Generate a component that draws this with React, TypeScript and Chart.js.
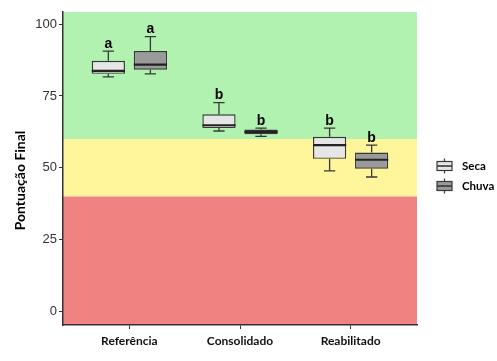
import React, { useEffect, useRef } from "react";
import { Chart, registerables } from "chart.js";

Chart.register(...registerables);

const categories = ["Referência", "Consolidado", "Reabilitado"];
const seriesNames = ["Seca", "Chuva"];

const secaMin = [81.6, 62.8, 48.9];
const secaQ1 = [82.7, 63.8, 53.1];
const secaMedian = [83.7, 64.8, 57.9];
const secaQ3 = [87.2, 68.6, 60.8];
const secaMax = [90.6, 72.7, 63.8];
const secaLetters = ["a", "b", "b"];

const chuvaMin = [82.7, 60.9, 46.8];
const chuvaQ1 = [84.1, 61.7, 49.7];
const chuvaMedian = [85.9, 62.5, 52.8];
const chuvaQ3 = [90.6, 63.3, 55.3];
const chuvaMax = [95.6, 63.8, 57.9];
const chuvaLetters = ["a", "b", "b"];

const yTicks = [0, 25, 50, 75, 100];
const bandGood = 60; // above: green
const bandMid = 40; // between: yellow; below: red

const COLORS = {
  green: "#b1f2b1",
  yellow: "#fff59b",
  red: "#f08282",
  seca: "#e6e6e6",
  chuva: "#9a9a9a",
  line: "#383838",
  axis: "#333333",
};

const stats = [
  { min: secaMin, q1: secaQ1, med: secaMedian, q3: secaQ3, max: secaMax, letters: secaLetters, fill: COLORS.seca },
  { min: chuvaMin, q1: chuvaQ1, med: chuvaMedian, q3: chuvaQ3, max: chuvaMax, letters: chuvaLetters, fill: COLORS.chuva },
];

const bandsPlugin = {
  id: "bands",
  beforeDraw(chart: any) {
    const { ctx, chartArea: a, scales } = chart;
    const y = scales.y;
    const y60 = y.getPixelForValue(bandGood);
    const y40 = y.getPixelForValue(bandMid);
    ctx.save();
    ctx.fillStyle = COLORS.green;
    ctx.fillRect(a.left, a.top, a.right - a.left, y60 - a.top);
    ctx.fillStyle = COLORS.yellow;
    ctx.fillRect(a.left, y60, a.right - a.left, y40 - y60);
    ctx.fillStyle = COLORS.red;
    ctx.fillRect(a.left, y40, a.right - a.left, a.bottom - y40);
    ctx.restore();
  },
};

const boxPlugin = {
  id: "boxextras",
  afterDatasetsDraw(chart: any) {
    const { ctx, scales } = chart;
    const y = scales.y;
    ctx.save();
    stats.forEach((s, di) => {
      const meta = chart.getDatasetMeta(di);
      meta.data.forEach((el: any, i: number) => {
        const cx = el.x;
        const w = el.width;
        const pMin = y.getPixelForValue(s.min[i]);
        const pQ1 = y.getPixelForValue(s.q1[i]);
        const pQ3 = y.getPixelForValue(s.q3[i]);
        const pMax = y.getPixelForValue(s.max[i]);
        const pMed = y.getPixelForValue(s.med[i]);
        ctx.strokeStyle = COLORS.line;
        ctx.lineWidth = 1.3;
        ctx.beginPath();
        ctx.moveTo(cx, pQ3);
        ctx.lineTo(cx, pMax);
        ctx.moveTo(cx, pQ1);
        ctx.lineTo(cx, pMin);
        const cw = w * 0.17;
        ctx.moveTo(cx - cw, pMax);
        ctx.lineTo(cx + cw, pMax);
        ctx.moveTo(cx - cw, pMin);
        ctx.lineTo(cx + cw, pMin);
        ctx.stroke();
        ctx.lineWidth = 2.2;
        ctx.strokeStyle = "#222222";
        ctx.beginPath();
        ctx.moveTo(cx - w / 2, pMed);
        ctx.lineTo(cx + w / 2, pMed);
        ctx.stroke();
        ctx.fillStyle = "#000000";
        ctx.font = "bold 14px 'Liberation Sans', Arial, sans-serif";
        ctx.textAlign = "center";
        ctx.textBaseline = "alphabetic";
        ctx.fillText(s.letters[i], cx, pMax - 3.5);
      });
    });
    ctx.restore();
  },
  afterDraw(chart: any) {
    const { ctx, chartArea: a } = chart;
    ctx.save();
    // y axis title
    ctx.translate(25, (a.top + a.bottom) / 2 + 12);
    ctx.rotate(-Math.PI / 2);
    ctx.fillStyle = "#000000";
    ctx.font = "bold 14px Lato, 'Open Sans', sans-serif";
    ctx.textAlign = "center";
    ctx.textBaseline = "alphabetic";
    ctx.fillText("Pontuação Final", 0, 0);
    ctx.restore();

    // legend
    ctx.save();
    const lx = a.right + 20;
    const gw = 15;
    const gh = 9;
    seriesNames.forEach((name, k) => {
      const cy = 166 + k * 20;
      ctx.strokeStyle = COLORS.line;
      ctx.lineWidth = 1.2;
      ctx.beginPath();
      ctx.moveTo(lx + gw / 2, cy - gh / 2 - 3);
      ctx.lineTo(lx + gw / 2, cy + gh / 2 + 3);
      ctx.stroke();
      ctx.fillStyle = stats[k].fill;
      ctx.fillRect(lx, cy - gh / 2, gw, gh);
      ctx.strokeRect(lx, cy - gh / 2, gw, gh);
      ctx.lineWidth = 1.6;
      ctx.beginPath();
      ctx.moveTo(lx, cy);
      ctx.lineTo(lx + gw, cy);
      ctx.stroke();
      ctx.fillStyle = "#000000";
      ctx.font = "bold 11.5px Lato, 'Open Sans', sans-serif";
      ctx.textAlign = "left";
      ctx.textBaseline = "middle";
      ctx.fillText(name, lx + gw + 10, cy);
    });
    ctx.restore();
  },
};

export default function App() {
  const ref = useRef<HTMLCanvasElement | null>(null);
  useEffect(() => {
    if (!ref.current) return;
    const chart = new Chart(ref.current, {
      type: "bar",
      data: {
        datasets: stats.map((s, di) => ({
          label: seriesNames[di],
          data: categories.map((_, i) => ({ x: i + 1, y: [s.q1[i], s.q3[i]] })),
          backgroundColor: s.fill,
          borderColor: COLORS.line,
          borderWidth: 1.4,
          borderSkipped: false,
          categoryPercentage: 0.76,
          barPercentage: 0.79,
        })),
      },
      options: {
        animation: false,
        responsive: true,
        maintainAspectRatio: false,
        layout: { padding: { top: 12, right: 80, left: 0, bottom: 0 } },
        plugins: { legend: { display: false }, tooltip: { enabled: false } },
        scales: {
          x: {
            type: "linear",
            min: 0.4,
            max: 3.6,
            offset: false,
            afterBuildTicks: (axis: any) => {
              axis.ticks = categories.map((_, i) => ({ value: i + 1 }));
            },
            afterFit: (axis: any) => {
              axis.height = 36;
            },
            grid: { display: true, offset: false, drawOnChartArea: false, drawTicks: true, tickLength: 4, color: COLORS.axis, lineWidth: 1 },
            border: { display: true, color: COLORS.axis, width: 1.5 },
            ticks: {
              autoSkip: false,
              maxRotation: 0,
              padding: 5,
              color: "#111111",
              font: { family: "Lato, 'Open Sans', sans-serif", size: 12, weight: "bold" },
              callback: (v: any) => categories[Math.round(Number(v)) - 1] ?? "",
            },
          },
          y: {
            type: "linear",
            min: -4.7,
            max: 104.2,
            afterBuildTicks: (axis: any) => {
              axis.ticks = yTicks.map((v) => ({ value: v }));
            },
            afterFit: (axis: any) => {
              axis.width = 63;
            },
            grid: { display: true, drawOnChartArea: false, drawTicks: true, tickLength: 4, color: COLORS.axis, lineWidth: 1 },
            border: { display: true, color: COLORS.axis, width: 1.5 },
            ticks: {
              padding: 2,
              color: "#333333",
              font: { family: "'Liberation Sans', Arial, sans-serif", size: 13 },
            },
          },
        },
      },
      plugins: [bandsPlugin, boxPlugin],
    } as any);
    return () => chart.destroy();
  }, []);
  return (
    <div style={{ position: "fixed", left: 0, top: 0, width: 497, height: 361, background: "#ffffff" }}>
      <canvas ref={ref} />
    </div>
  );
}
